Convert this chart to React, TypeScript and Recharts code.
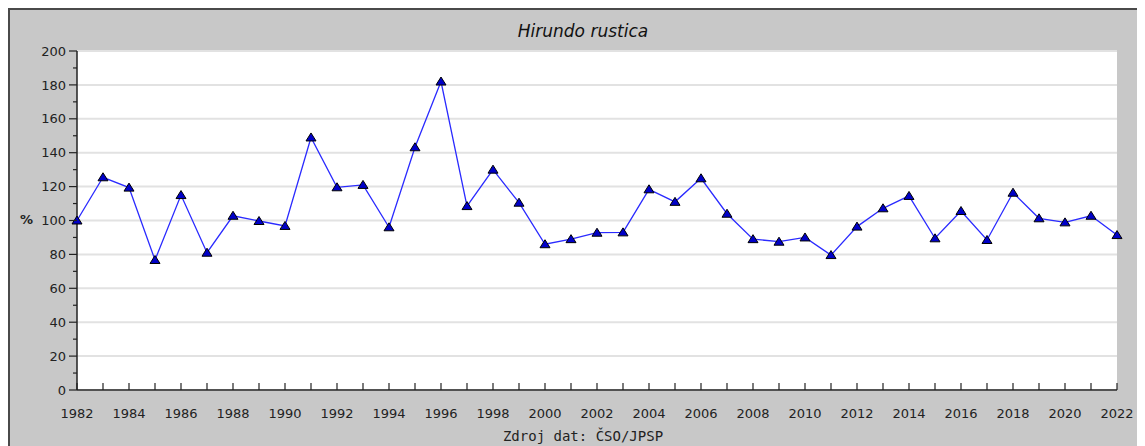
import { LineChart, Line, XAxis, YAxis, CartesianGrid } from 'recharts'

const YEARS = [
  1982, 1983, 1984, 1985, 1986, 1987, 1988, 1989, 1990, 1991, 1992, 1993, 1994, 1995,
  1996, 1997, 1998, 1999, 2000, 2001, 2002, 2003, 2004, 2005, 2006, 2007, 2008, 2009,
  2010, 2011, 2012, 2013, 2014, 2015, 2016, 2017, 2018, 2019, 2020, 2021, 2022,
]
const INDEX = [
  100, 125.5, 119.4, 76.7, 115, 81, 102.8, 99.7, 96.8, 149, 119.6, 121, 96, 143.2,
  182, 108.5, 130, 110.5, 86, 89, 92.8, 93, 118.4, 111, 124.9, 104, 89, 87.5,
  90, 79.6, 96.4, 107.2, 114.5, 89.5, 105.6, 88.5, 116.4, 101.3, 98.9, 102.8, 91.4,
]
const Y_TICKS = [0, 10, 20, 30, 40, 50, 60, 70, 80, 90, 100, 110, 120, 130, 140, 150, 160, 170, 180, 190, 200]
const Y_GRID = [0, 20, 40, 60, 80, 100, 120, 140, 160, 180, 200]

const data = YEARS.map((year, i) => ({ year, value: INDEX[i] }))

const BG = '#c8c8c8'
const FONT = '"DejaVu Sans", Verdana, sans-serif'
const AXIS = '#222'

// y ticks: long mark + label on every 20, short mark on every 10
const YTick = (props: any) => {
  const { x, y, payload } = props
  const major = payload.value % 20 === 0
  return (
    <g>
      <line x1={x - (major ? 8 : 4)} x2={x} y1={y} y2={y} stroke={AXIS} strokeWidth={1.2} />
      {major && (
        <text x={x - 11} y={y} dy="0.36em" textAnchor="end" fontSize={13} fontFamily={FONT} fill="#222">
          {payload.value}
        </text>
      )}
    </g>
  )
}

// x ticks point into the plot, labels every other year
const XTick = (props: any) => {
  const { x, y, payload } = props
  const labelled = (payload.value - YEARS[0]) % 2 === 0
  return (
    <g>
      <line x1={x} x2={x} y1={y} y2={y - 7} stroke={AXIS} strokeWidth={1.2} />
      {labelled && (
        <text x={x} y={y + 28} textAnchor="middle" fontSize={13} fontFamily={FONT} fill="#222">
          {payload.value}
        </text>
      )}
    </g>
  )
}

const Triangle = (props: any) => {
  const { cx, cy } = props
  if (cx == null || cy == null) return null
  return (
    <polygon
      points={`${cx},${cy - 4.5} ${cx - 5},${cy + 3.5} ${cx + 5},${cy + 3.5}`}
      fill="#0000c8"
      stroke="#000"
      strokeWidth={1}
    />
  )
}

export default function App() {
  return (
    <div
      style={{
        position: 'relative',
        width: 1135,
        height: 436,
        background: BG,
        borderTop: '2px solid #4a4a4a',
        borderLeft: '2px solid #4a4a4a',
        overflow: 'hidden',
      }}
    >
      <div
        style={{
          position: 'absolute',
          left: 573,
          top: 11,
          transform: 'translateX(-50%)',
          fontFamily: FONT,
          fontStyle: 'italic',
          fontSize: 17,
          color: '#111',
          whiteSpace: 'nowrap',
        }}
      >
        Hirundo rustica
      </div>
      <div
        style={{
          position: 'absolute',
          left: 10,
          top: 202,
          fontFamily: FONT,
          fontWeight: 'bold',
          fontSize: 13,
          color: '#222',
        }}
      >
        %
      </div>
      <div
        style={{
          position: 'absolute',
          left: 573,
          top: 418,
          transform: 'translateX(-50%)',
          fontFamily: '"DejaVu Sans Mono", monospace',
          fontSize: 14,
          color: '#222',
          whiteSpace: 'nowrap',
        }}
      >
        Zdroj dat: ČSO/JPSP
      </div>
      <LineChart
        width={1135}
        height={436}
        data={data}
        margin={{ top: 41, right: 28, bottom: 26, left: 0 }}
        style={{ position: 'absolute', left: 0, top: 0 }}
      >
        <CartesianGrid
          fill="#fff"
          vertical={false}
          horizontalValues={Y_GRID}
          stroke="#e2e2e2"
          strokeWidth={2}
        />
        <XAxis
          dataKey="year"
          type="number"
          domain={[YEARS[0], YEARS[YEARS.length - 1]]}
          ticks={YEARS}
          interval={0}
          height={30}
          tickSize={0}
          tickMargin={0}
          tickLine={false}
          axisLine={{ stroke: AXIS, strokeWidth: 1.5 }}
          tick={<XTick />}
        />
        <YAxis
          type="number"
          domain={[0, 200]}
          ticks={Y_TICKS}
          interval={0}
          width={67}
          tickSize={0}
          tickMargin={0}
          tickLine={false}
          axisLine={{ stroke: AXIS, strokeWidth: 1.5 }}
          tick={<YTick />}
        />
        <Line
          type="linear"
          dataKey="value"
          stroke="#2a2aff"
          strokeWidth={1.3}
          dot={<Triangle />}
          activeDot={false}
          isAnimationActive={false}
        />
      </LineChart>
    </div>
  )
}
